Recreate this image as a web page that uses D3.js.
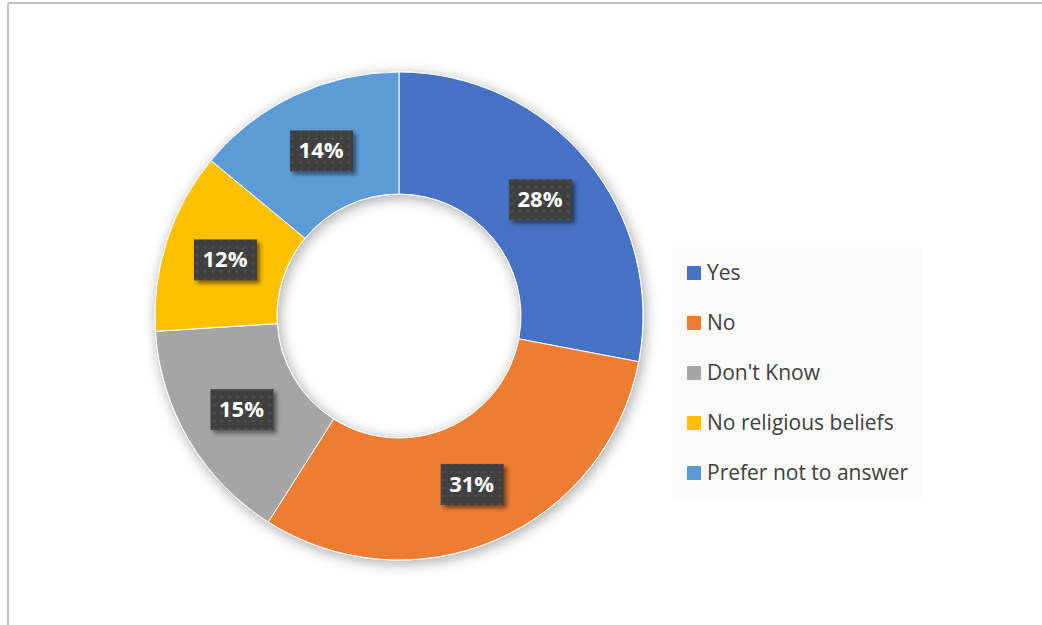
<!DOCTYPE html>
<html>
<head>
<meta charset="utf-8">
<script src="https://cdn.jsdelivr.net/npm/d3@7"></script>
<style>
  body { margin: 0; background: #fff; }
  svg { display: block; }
  .label { font-family: "Open Sans", sans-serif; font-weight: bold; font-size: 22px; fill: #fff; }
  .legend-text { font-family: "Open Sans", sans-serif; font-size: 21px; fill: #404040; }
</style>
</head>
<body>
<svg id="chart" width="1042" height="625"></svg>
<script>
// data
const categories = ["Yes", "No", "Don't Know", "No religious beliefs", "Prefer not to answer"];
const values = [28, 31, 15, 12, 14];
const colors = ["#4472C4", "#ED7D31", "#A5A5A5", "#FFC000", "#5B9BD5"];

const svg = d3.select("#chart");
const width = +svg.attr("width");
const height = +svg.attr("height");

const defs = svg.append("defs");

// soft shadow behind the ring
const ringShadow = defs.append("filter").attr("id", "ringShadow")
  .attr("x", "-20%").attr("y", "-20%").attr("width", "140%").attr("height", "140%");
ringShadow.append("feGaussianBlur").attr("in", "SourceAlpha").attr("stdDeviation", 7).attr("result", "b");
ringShadow.append("feOffset").attr("in", "b").attr("dx", 2).attr("dy", 3).attr("result", "o");
ringShadow.append("feComponentTransfer").attr("in", "o").attr("result", "s")
  .append("feFuncA").attr("type", "linear").attr("slope", 0.35);
const m1 = ringShadow.append("feMerge");
m1.append("feMergeNode").attr("in", "s");
m1.append("feMergeNode").attr("in", "SourceGraphic");

// shadow for label boxes
const boxShadow = defs.append("filter").attr("id", "boxShadow")
  .attr("x", "-30%").attr("y", "-30%").attr("width", "160%").attr("height", "160%");
boxShadow.append("feGaussianBlur").attr("in", "SourceAlpha").attr("stdDeviation", 2).attr("result", "b");
boxShadow.append("feOffset").attr("in", "b").attr("dx", 3).attr("dy", 3).attr("result", "o");
boxShadow.append("feComponentTransfer").attr("in", "o").attr("result", "s")
  .append("feFuncA").attr("type", "linear").attr("slope", 0.5);
const m2 = boxShadow.append("feMerge");
m2.append("feMergeNode").attr("in", "s");
m2.append("feMergeNode").attr("in", "SourceGraphic");

// dotted fill for the label boxes
const pat = defs.append("pattern").attr("id", "dots")
  .attr("width", 8).attr("height", 8).attr("patternUnits", "userSpaceOnUse");
pat.append("rect").attr("width", 8).attr("height", 8).attr("fill", "#404040");
pat.append("rect").attr("x", 3).attr("y", 3).attr("width", 2).attr("height", 2).attr("fill", "#555555");

// frame (only left and top edges visible)
svg.append("line").attr("x1", 8).attr("y1", 3).attr("x2", width).attr("y2", 3)
  .attr("stroke", "#bfbfbf").attr("stroke-width", 2);
svg.append("line").attr("x1", 8).attr("y1", 3).attr("x2", 8).attr("y2", height)
  .attr("stroke", "#bfbfbf").attr("stroke-width", 2);

const cx = 399, cy = 316;
const outerR = 244, innerR = 122;

const color = d3.scaleOrdinal().domain(categories).range(colors);

const pie = d3.pie().sort(null).value(d => d.value);
const data = categories.map((c, i) => ({ name: c, value: values[i] }));
const arcs = pie(data);

const arc = d3.arc().innerRadius(innerR).outerRadius(outerR);
const labelArc = d3.arc().innerRadius(183).outerRadius(183);

const g = svg.append("g").attr("transform", `translate(${cx},${cy})`);

g.append("g").attr("filter", "url(#ringShadow)")
  .selectAll("path").data(arcs).enter().append("path")
    .attr("d", arc)
    .attr("fill", d => color(d.data.name))
    .attr("stroke", "#fff")
    .attr("stroke-width", 1);

const total = d3.sum(values);
const labels = g.selectAll(".lab").data(arcs).enter().append("g")
  .attr("transform", d => `translate(${labelArc.centroid(d)})`);

labels.append("rect")
  .attr("x", -31).attr("y", -20).attr("width", 63).attr("height", 41)
  .attr("fill", "url(#dots)")
  .attr("filter", "url(#boxShadow)");

labels.append("text")
  .attr("class", "label")
  .attr("text-anchor", "middle")
  .attr("dy", "0.36em")
  .text(d => Math.round(d.data.value / total * 100) + "%");

// legend
const legend = svg.append("g").attr("transform", "translate(672,247)");
legend.append("rect").attr("width", 250).attr("height", 251).attr("fill", "#fafafa");

const rowY = d3.scalePoint().domain(categories).range([26, 226]);

const items = legend.selectAll(".item").data(categories).enter().append("g")
  .attr("transform", d => `translate(15,${rowY(d)})`);
items.append("rect").attr("x", 0).attr("y", -7).attr("width", 14).attr("height", 14)
  .attr("fill", d => color(d));
items.append("text").attr("class", "legend-text")
  .attr("x", 20).attr("dy", "0.35em")
  .text(d => d);
</script>
</body>
</html>
